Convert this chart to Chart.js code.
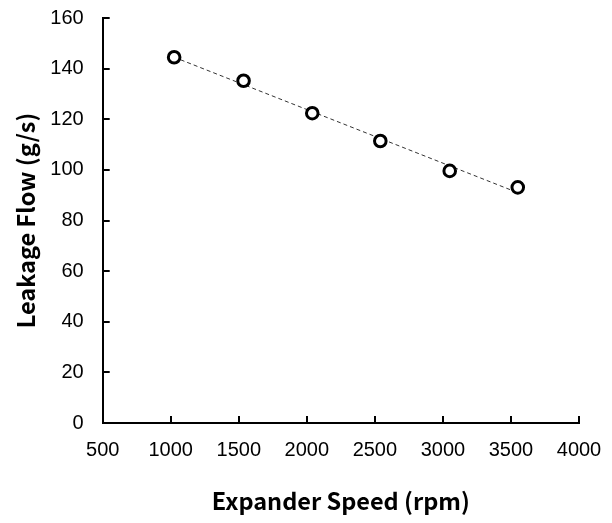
<!DOCTYPE html>
<html>
<head>
<meta charset="utf-8">
<script src="https://cdn.jsdelivr.net/npm/chart.js@4/dist/chart.umd.min.js"></script>
<style>
html,body{margin:0;padding:0;background:#fff;}
#wrap{width:612px;height:523px;position:relative;}
</style>
</head>
<body>
<div id="wrap"><canvas id="c" width="612" height="523"></canvas></div>
<script>
// Data
const speedRpm = [1025, 1535, 2040, 2540, 3050, 3550];
const leakageFlow = [144.5, 135.2, 122.4, 111.4, 99.6, 93.1];
// Trend line end points
const trendX = [1025, 3550];
const trendY = [144.5, 91.0];
const xTicks = [500, 1000, 1500, 2000, 2500, 3000, 3500, 4000];
const yTicks = [0, 20, 40, 60, 80, 100, 120, 140, 160];

const pts = speedRpm.map((x, i) => ({x: x, y: leakageFlow[i]}));
const trend = trendX.map((x, i) => ({x: x, y: trendY[i]}));

const insideTicks = {
  id: 'insideTicks',
  afterDraw(chart) {
    const ctx = chart.ctx;
    const xs = chart.scales.x, ys = chart.scales.y;
    ctx.save();
    ctx.strokeStyle = '#000';
    ctx.lineWidth = 2;
    xTicks.forEach(v => {
      const px = Math.round(xs.getPixelForValue(v));
      ctx.beginPath();
      ctx.moveTo(px, ys.bottom);
      ctx.lineTo(px, ys.bottom - 7);
      ctx.stroke();
    });
    yTicks.forEach(v => {
      const py = Math.round(ys.getPixelForValue(v));
      ctx.beginPath();
      ctx.moveTo(xs.left, py);
      ctx.lineTo(xs.left + 7, py);
      ctx.stroke();
    });
    ctx.restore();
  }
};

new Chart(document.getElementById('c'), {
  type: 'scatter',
  data: {
    datasets: [
      {
        data: pts,
        showLine: false,
        pointStyle: 'circle',
        pointRadius: 5.8,
        pointBorderWidth: 3,
        pointBorderColor: '#000',
        pointBackgroundColor: '#fff',
        order: 0
      },
      {
        data: trend,
        showLine: true,
        borderColor: '#333',
        borderWidth: 1,
        borderDash: [4, 3],
        pointRadius: 0,
        fill: false,
        order: 1
      }
    ]
  },
  options: {
    responsive: false,
    animation: false,
    devicePixelRatio: 1,
    layout: {padding: {top: 18, right: 33, left: 0, bottom: 0}},
    plugins: {legend: {display: false}, tooltip: {enabled: false}},
    scales: {
      x: {
        type: 'linear',
        min: 500, max: 4000,
        afterBuildTicks(s) { s.ticks = xTicks.map(v => ({value: v})); },
        afterFit(s) { s.height = 100; s.paddingLeft = 0; s.paddingRight = 0; },
        grid: {display: false, drawTicks: false},
        border: {display: true, color: '#000', width: 2},
        ticks: {
          padding: 15,
          color: '#000',
          callback: v => String(v),
          font: {family: '"Liberation Sans", Arial, sans-serif', size: 20}
        },
        title: {
          display: true,
          text: 'Expander Speed (rpm)',
          color: '#000',
          font: {family: '"Noto Sans CJK KR", "Noto Sans", sans-serif', size: 23.5, weight: 'bold'},
          padding: {top: 0, bottom: 8}
        }
      },
      y: {
        type: 'linear',
        min: 0, max: 160,
        afterBuildTicks(s) { s.ticks = yTicks.map(v => ({value: v})); },
        afterFit(s) { s.width = 102.7; s.paddingTop = 0; s.paddingBottom = 0; },
        grid: {display: false, drawTicks: false},
        border: {display: true, color: '#000', width: 2},
        ticks: {
          padding: 19,
          color: '#000',
          callback: v => String(v),
          font: {family: '"Liberation Sans", Arial, sans-serif', size: 20}
        },
        title: {
          display: true,
          text: 'Leakage Flow (g/s)',
          color: '#000',
          font: {family: '"Noto Sans CJK KR", "Noto Sans", sans-serif', size: 23.5, weight: 'bold'},
          padding: {top: 12, bottom: 0}
        }
      }
    }
  },
  plugins: [insideTicks]
});
</script>
</body>
</html>
